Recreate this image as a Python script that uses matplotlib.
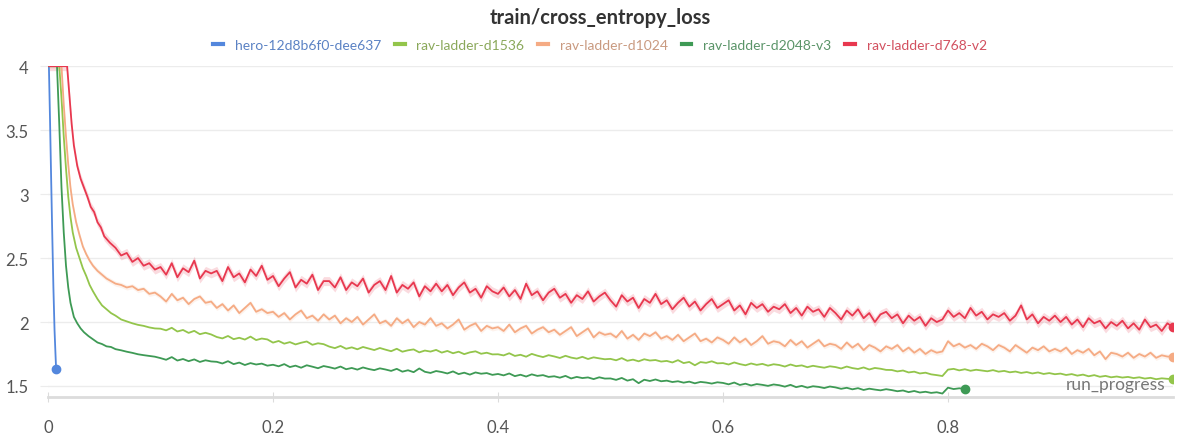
import numpy as np
import matplotlib.pyplot as plt

# ---- data ----
names = ['hero-12d8b6f0-dee637', 'rav-ladder-d1536', 'rav-ladder-d1024',
         'rav-ladder-d2048-v3', 'rav-ladder-d768-v2']

hero_x = [0.0008, 0.0018, 0.0028, 0.0038, 0.0048, 0.0058, 0.0066, 0.0072]
hero_y = [4.0, 3.58, 3.12, 2.68, 2.27, 1.94, 1.76, 1.635]

# early part of each ladder run (dense), tail is sampled every 0.005 of run_progress
red_head_x = [0.001, 0.017, 0.019, 0.021, 0.023, 0.026, 0.029, 0.032, 0.035, 0.038, 0.041, 0.044,
              0.047, 0.050, 0.055, 0.060, 0.065, 0.070, 0.075, 0.080, 0.085, 0.090, 0.095]
red_head_y = [4.0, 4.0, 3.78, 3.55, 3.38, 3.22, 3.12, 3.05, 2.98, 2.90, 2.86, 2.78,
              2.74, 2.67, 2.62, 2.58, 2.52, 2.54, 2.47, 2.50, 2.44, 2.46, 2.41]
red_tail_y = [2.43, 2.37, 2.46, 2.35, 2.42, 2.39, 2.48, 2.34, 2.40, 2.38,
              2.40, 2.32, 2.43, 2.35, 2.38, 2.31, 2.41, 2.36, 2.44, 2.33,
              2.36, 2.28, 2.34, 2.39, 2.27, 2.33, 2.30, 2.37, 2.25, 2.32,
              2.32, 2.27, 2.35, 2.25, 2.31, 2.28, 2.34, 2.23, 2.29, 2.32,
              2.25, 2.36, 2.23, 2.29, 2.26, 2.31, 2.20, 2.28, 2.24, 2.30,
              2.24, 2.29, 2.21, 2.27, 2.31, 2.23, 2.26, 2.19, 2.28, 2.24,
              2.22, 2.27, 2.20, 2.25, 2.18, 2.30, 2.21, 2.24, 2.17, 2.23,
              2.26, 2.19, 2.22, 2.15, 2.21, 2.18, 2.24, 2.16, 2.20, 2.23,
              2.17, 2.12, 2.21, 2.16, 2.19, 2.11, 2.18, 2.15, 2.22, 2.14,
              2.17, 2.10, 2.15, 2.19, 2.12, 2.16, 2.09, 2.14, 2.18, 2.11,
              2.14, 2.17, 2.09, 2.13, 2.06, 2.15, 2.11, 2.14, 2.08, 2.12,
              2.10, 2.14, 2.07, 2.11, 2.05, 2.12, 2.08, 2.10, 2.04, 2.11,
              2.07, 2.02, 2.09, 2.05, 2.10, 2.03, 2.07, 2.00, 2.06, 2.08,
              2.03, 2.06, 1.99, 2.05, 2.01, 2.04, 1.97, 2.03, 2.00, 2.02,
              2.09, 2.04, 2.07, 2.03, 2.11, 2.05, 2.08, 2.02, 2.06, 2.04,
              2.07, 2.01, 2.05, 2.13, 2.02, 2.06, 1.99, 2.04, 2.01, 2.05,
              2.00, 2.04, 1.98, 2.02, 1.96, 2.03, 1.99, 2.01, 1.95, 2.00,
              1.97, 2.01, 1.95, 1.99, 1.94, 2.02, 1.96, 1.98, 1.93, 1.99,
              1.96]

peach_head_x = [0.001, 0.012, 0.014, 0.016, 0.018, 0.020, 0.022, 0.025, 0.028, 0.031, 0.034, 0.037,
                0.040, 0.044, 0.048, 0.052, 0.056, 0.060, 0.065, 0.070, 0.075, 0.080, 0.085, 0.090, 0.095]
peach_head_y = [4.0, 4.0, 3.70, 3.45, 3.23, 3.05, 2.92, 2.78, 2.68, 2.59, 2.53, 2.48,
                2.44, 2.40, 2.37, 2.34, 2.32, 2.30, 2.29, 2.27, 2.28, 2.25, 2.26, 2.22, 2.23]
peach_tail_y = [2.20, 2.16, 2.22, 2.17, 2.19, 2.14, 2.18, 2.20, 2.15, 2.16,
                2.11, 2.14, 2.09, 2.13, 2.07, 2.11, 2.15, 2.08, 2.10, 2.07,
                2.08, 2.04, 2.07, 2.02, 2.06, 2.09, 2.03, 2.05, 2.01, 2.06,
                2.02, 2.05, 1.99, 2.03, 2.00, 2.04, 1.98, 2.02, 2.06, 1.99,
                2.01, 1.97, 2.03, 1.99, 2.02, 1.96, 2.00, 1.98, 2.03, 1.97,
                1.99, 1.95, 1.98, 2.02, 1.94, 1.97, 1.99, 1.93, 1.97, 1.95,
                1.96, 1.93, 1.98, 1.92, 1.95, 1.97, 1.91, 1.94, 1.96, 1.92,
                1.94, 1.90, 1.93, 1.96, 1.89, 1.92, 1.95, 1.88, 1.92, 1.90,
                1.91, 1.88, 1.93, 1.87, 1.90, 1.86, 1.91, 1.89, 1.92, 1.87,
                1.89, 1.86, 1.90, 1.85, 1.88, 1.91, 1.85, 1.87, 1.84, 1.88,
                1.86, 1.83, 1.88, 1.84, 1.87, 1.82, 1.85, 1.89, 1.83, 1.85,
                1.84, 1.81, 1.86, 1.82, 1.85, 1.80, 1.83, 1.86, 1.81, 1.83,
                1.82, 1.79, 1.84, 1.80, 1.83, 1.78, 1.82, 1.80, 1.77, 1.81,
                1.79, 1.82, 1.77, 1.80, 1.76, 1.79, 1.75, 1.78, 1.76, 1.77,
                1.85, 1.81, 1.83, 1.80, 1.82, 1.79, 1.83, 1.81, 1.78, 1.82,
                1.80, 1.77, 1.82, 1.79, 1.76, 1.80, 1.78, 1.81, 1.77, 1.79,
                1.77, 1.80, 1.75, 1.78, 1.76, 1.79, 1.74, 1.77, 1.71, 1.76,
                1.75, 1.73, 1.76, 1.72, 1.75, 1.73, 1.76, 1.72, 1.74, 1.73,
                1.73]

lgreen_head_x = [0.001, 0.010, 0.012, 0.014, 0.016, 0.018, 0.020, 0.022, 0.025, 0.028, 0.031, 0.034, 0.037,
                 0.040, 0.044, 0.048, 0.052, 0.056, 0.060, 0.065, 0.070, 0.075, 0.080, 0.085, 0.090, 0.095]
lgreen_head_y = [4.0, 4.0, 3.75, 3.45, 3.20, 2.98, 2.82, 2.70, 2.58, 2.50, 2.42, 2.36, 2.29,
                 2.24, 2.18, 2.13, 2.10, 2.07, 2.05, 2.02, 2.005, 1.99, 1.978, 1.97, 1.958, 1.95]
lgreen_tail_y = [1.948, 1.935, 1.955, 1.926, 1.938, 1.915, 1.931, 1.905, 1.916, 1.903,
                 1.883, 1.872, 1.891, 1.866, 1.877, 1.863, 1.886, 1.859, 1.871, 1.864,
                 1.839, 1.852, 1.831, 1.843, 1.825, 1.838, 1.848, 1.822, 1.834, 1.827,
                 1.808, 1.796, 1.813, 1.791, 1.802, 1.787, 1.805, 1.793, 1.781, 1.797,
                 1.784, 1.772, 1.791, 1.768, 1.779, 1.786, 1.763, 1.777, 1.769, 1.782,
                 1.761, 1.774, 1.756, 1.768, 1.749, 1.763, 1.771, 1.752, 1.760, 1.747,
                 1.748, 1.739, 1.756, 1.735, 1.744, 1.729, 1.751, 1.737, 1.726, 1.741,
                 1.731, 1.719, 1.736, 1.722, 1.714, 1.728, 1.711, 1.724, 1.716, 1.709,
                 1.712, 1.701, 1.718, 1.697, 1.706, 1.693, 1.709, 1.699, 1.703, 1.691,
                 1.696, 1.684, 1.702, 1.679, 1.688, 1.662, 1.687, 1.681, 1.693, 1.677,
                 1.679, 1.668, 1.684, 1.671, 1.662, 1.676, 1.665, 1.673, 1.659, 1.670,
                 1.664, 1.652, 1.668, 1.655, 1.661, 1.647, 1.658, 1.650, 1.643, 1.654,
                 1.648, 1.637, 1.652, 1.640, 1.633, 1.645, 1.629, 1.641, 1.635, 1.626,
                 1.625, 1.614, 1.621, 1.606, 1.612, 1.598, 1.604, 1.591, 1.585, 1.578,
                 1.628, 1.634, 1.622, 1.631, 1.619, 1.627, 1.621, 1.615, 1.624, 1.612,
                 1.618, 1.607, 1.613, 1.602, 1.609, 1.598, 1.606, 1.594, 1.601, 1.592,
                 1.597, 1.586, 1.593, 1.581, 1.589, 1.576, 1.585, 1.572, 1.579, 1.568,
                 1.574, 1.566, 1.571, 1.562, 1.568, 1.558, 1.564, 1.553, 1.560, 1.556,
                 1.555]

dgreen_head_x = [0.001, 0.008, 0.010, 0.012, 0.014, 0.016, 0.018, 0.020, 0.023, 0.026, 0.029, 0.032, 0.036,
                 0.040, 0.044, 0.048, 0.052, 0.056, 0.060, 0.065, 0.070, 0.075, 0.080, 0.085, 0.090, 0.095]
dgreen_head_y = [4.0, 4.0, 3.55, 3.05, 2.70, 2.44, 2.27, 2.15, 2.04, 1.99, 1.95, 1.92, 1.89,
                 1.865, 1.84, 1.828, 1.81, 1.805, 1.788, 1.779, 1.768, 1.759, 1.748, 1.741, 1.735, 1.729]
dgreen_tail_y = [1.718, 1.705, 1.726, 1.699, 1.711, 1.694, 1.708, 1.688, 1.701, 1.692,
                 1.689, 1.676, 1.694, 1.671, 1.683, 1.664, 1.679, 1.668, 1.675, 1.659,
                 1.666, 1.654, 1.671, 1.648, 1.659, 1.643, 1.662, 1.651, 1.639, 1.656,
                 1.647, 1.636, 1.652, 1.631, 1.641, 1.628, 1.645, 1.633, 1.624, 1.638,
                 1.629, 1.618, 1.634, 1.612, 1.623, 1.608, 1.637, 1.611, 1.602, 1.617,
                 1.609, 1.598, 1.614, 1.593, 1.604, 1.589, 1.606, 1.596, 1.601, 1.587,
                 1.594, 1.583, 1.598, 1.577, 1.588, 1.574, 1.591, 1.579, 1.585, 1.571,
                 1.576, 1.565, 1.579, 1.559, 1.571, 1.562, 1.567, 1.554, 1.568, 1.558,
                 1.559, 1.548, 1.563, 1.542, 1.553, 1.522, 1.549, 1.539, 1.551, 1.537,
                 1.542, 1.531, 1.537, 1.526, 1.534, 1.521, 1.532, 1.527, 1.519, 1.529,
                 1.524, 1.513, 1.527, 1.508, 1.518, 1.504, 1.515, 1.509, 1.501, 1.512,
                 1.506, 1.495, 1.509, 1.491, 1.501, 1.487, 1.498, 1.493, 1.484, 1.496,
                 1.489, 1.478, 1.486, 1.474, 1.483, 1.469, 1.479, 1.472, 1.466, 1.475,
                 1.468, 1.459, 1.465, 1.452, 1.461, 1.449, 1.455, 1.446, 1.451, 1.441,
                 1.487, 1.476, 1.482, 1.478]

tail_x = np.arange(100, 1001, 5) / 1000      # run_progress 0.100 ... 1.000
dgreen_tail_x = np.arange(100, 816, 5) / 1000  # d2048 stops at 0.815

xticks = [0, 0.2, 0.4, 0.6, 0.8]
yticks = [1.5, 2, 2.5, 3, 3.5, 4]

line_colors = ['#5387dd', '#93c54b', '#f5ab84', '#3e9a55', '#e8384f']
text_colors = ['#5b82c4', '#8aa85a', '#c99a80', '#5a9468', '#d2505f']

plt.rcParams['font.family'] = ['Lato', 'DejaVu Sans']

fig = plt.figure(figsize=(12, 4.39), dpi=100)
ax = fig.add_axes([0.04, 0.0934, 0.9375, 0.7536])

series = [
    (np.array(hero_x), np.array(hero_y)),
    (np.concatenate([lgreen_head_x, tail_x]), np.concatenate([lgreen_head_y, lgreen_tail_y])),
    (np.concatenate([peach_head_x, tail_x]), np.concatenate([peach_head_y, peach_tail_y])),
    (np.concatenate([dgreen_head_x, dgreen_tail_x]), np.concatenate([dgreen_head_y, dgreen_tail_y])),
    (np.concatenate([red_head_x, tail_x]), np.concatenate([red_head_y, red_tail_y])),
]

handles = []
for i, (x, y) in enumerate(series):
    c = line_colors[i]
    if i == 4:
        ax.fill_between(x, y - 0.035, np.minimum(y + 0.035, 4.0), color=c, alpha=0.18, lw=0, zorder=2)
    if i == 2:
        ax.fill_between(x, y - 0.02, np.minimum(y + 0.02, 4.0), color=c, alpha=0.15, lw=0, zorder=2)
    h, = ax.plot(x, y, color=c, lw=1.3, zorder=3, label=names[i])
    ax.plot(x[-1], y[-1], 'o', color=c, ms=6, zorder=4)
    handles.append(h)

ax.set_xlim(0, 1.0)
ax.set_ylim(1.414, 4.0)
ax.set_xticks(xticks)
ax.set_xticklabels(['0', '0.2', '0.4', '0.6', '0.8'])
ax.set_yticks(yticks)
ax.set_yticklabels(['1.5', '2', '2.5', '3', '3.5', '4'])

for s in ['top', 'right', 'left']:
    ax.spines[s].set_visible(False)
ax.spines['bottom'].set_color('#dcdcdc')
ax.spines['bottom'].set_linewidth(2)
ax.grid(axis='y', color='#ececec', lw=1)
ax.set_axisbelow(True)
ax.tick_params(axis='y', length=6, color='#ececec', labelsize=12, labelcolor='#555555', pad=8)
ax.tick_params(axis='x', length=7, direction='inout', color='#dcdcdc', labelsize=12,
               labelcolor='#555555', pad=12)

ax.text(0.993, 0.04, 'run_progress', transform=ax.transAxes, ha='right', va='center',
        fontsize=12.5, color='#777777')

fig.text(0.5, 0.958, 'train/cross_entropy_loss', ha='center', va='center',
         fontsize=14.5, fontweight='bold', color='#333333')

leg = fig.legend(handles=[plt.Line2D([], [], color=c, lw=3) for c in line_colors], labels=names,
                 loc='center', bbox_to_anchor=(0.5, 0.895), ncol=5, frameon=False,
                 fontsize=10, handlelength=0.7, handletextpad=0.85, columnspacing=1.0)
for t, c in zip(leg.get_texts(), text_colors):
    t.set_color(c)

fig.savefig('out.png', dpi=100)
